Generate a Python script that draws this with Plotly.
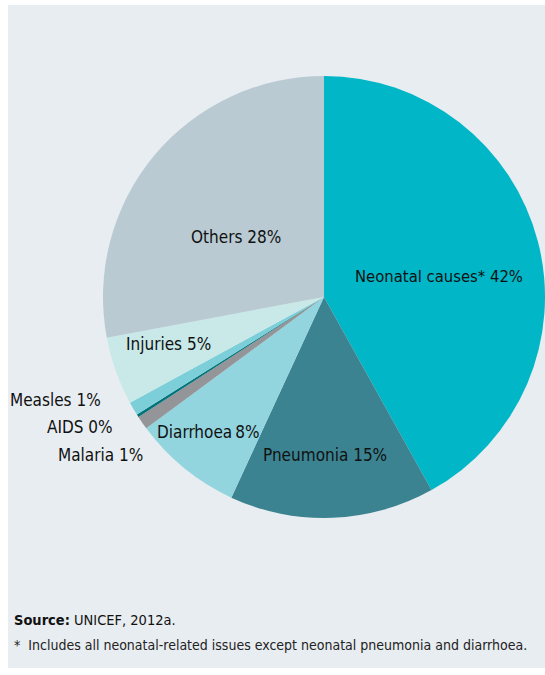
import plotly.graph_objects as go

# Causes of under-five deaths (share of total, %)
causes = ["Neonatal causes*", "Pneumonia", "Diarrhoea", "Malaria", "AIDS",
          "Measles", "Injuries", "Others"]
shares = [42, 15, 8, 1, 0.2, 1, 5, 28]
colors = ["#00b6c7", "#3b8390", "#92d5df", "#939598", "#00737a",
          "#7ccfd8", "#c8e9e8", "#b9cad3"]

W, H = 545, 675
FONT = "DejaVu Sans Condensed, Roboto, sans-serif"

# label anchor positions in pixels (centre of each text)
label_pos = {
    "Neonatal causes*": (439, 276, "center"),
    "Pneumonia": (325, 455, "center"),
    "Diarrhoea": (208, 432, "center"),
    "Malaria": (145, 455, "right"),
    "AIDS": (115, 427, "right"),
    "Measles": (103, 400, "right"),
    "Injuries": (168, 344, "center"),
    "Others": (236, 237, "center"),
}

cx, cy, r = 325, 297, 222
fig = go.Figure(go.Pie(
    labels=causes,
    values=shares,
    sort=False,
    direction="clockwise",
    rotation=0,
    marker=dict(colors=colors, line=dict(width=0)),
    textinfo="none",
    hoverinfo="label+percent",
    showlegend=False,
    domain=dict(x=[(cx - r) / W, 1.0],
                y=[1 - (cy + r) / H, 1 - (cy - r) / H]),
))

annotations = []
for name, val in zip(causes, shares):
    px, py, anchor = label_pos[name]
    sep = "\u2009" if name == "Diarrhoea" else " "
    size = 16.5 if name == "Neonatal causes*" else 17
    annotations.append(dict(
        text=f"{name}{sep}{round(val)}%",
        x=px / W, y=1 - py / H, xref="paper", yref="paper",
        xanchor=anchor, yanchor="middle", showarrow=False,
        font=dict(family=FONT, size=size, color="#111111"),
    ))

annotations.append(dict(
    text="<b>Source:</b> UNICEF, 2012a.",
    x=12 / W, y=1 - 620 / H, xref="paper", yref="paper",
    xanchor="left", yanchor="middle", showarrow=False,
    font=dict(family=FONT, size=14.5, color="#111111"),
))
annotations.append(dict(
    text="*  Includes all neonatal-related issues except neonatal pneumonia and diarrhoea.",
    x=12 / W, y=1 - 645 / H, xref="paper", yref="paper",
    xanchor="left", yanchor="middle", showarrow=False,
    font=dict(family=FONT, size=14, color="#222222"),
))

fig.update_layout(
    width=W, height=H,
    margin=dict(l=0, r=0, t=0, b=0),
    paper_bgcolor="white",
    plot_bgcolor="white",
    shapes=[dict(type="rect", xref="paper", yref="paper",
                 x0=8 / W, x1=1, y0=1 - 668 / H, y1=1 - 5 / H,
                 fillcolor="#e8edf1", line=dict(width=0), layer="below")],
    annotations=annotations,
)

fig.write_html("out.html")
